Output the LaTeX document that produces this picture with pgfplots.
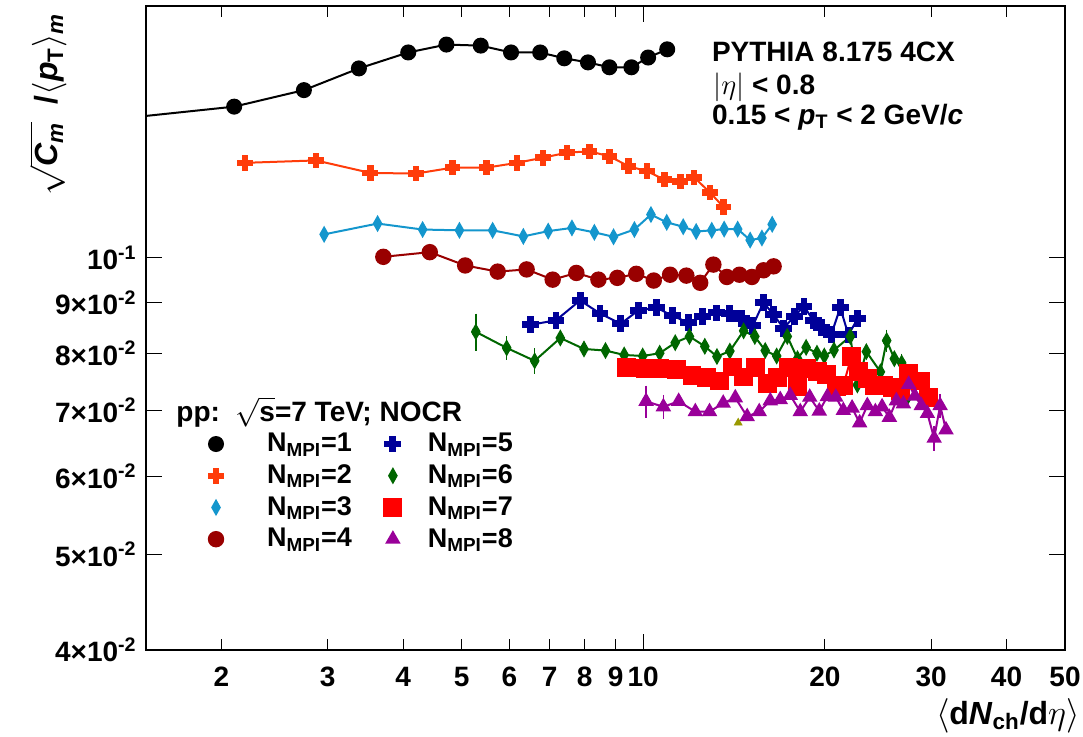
\documentclass[border=0pt]{standalone}
\usepackage{amsmath}
\usepackage{fontspec}
\setmainfont{Liberation Sans}
\usepackage{pgfplots}
\pgfplotsset{compat=1.18}
\definecolor{cOrange}{RGB}{255,60,10}
\definecolor{cCyan}{RGB}{20,150,205}
\definecolor{cBrown}{RGB}{153,0,0}
\definecolor{cBlue}{RGB}{0,0,153}
\definecolor{cGreen}{RGB}{0,102,0}
\definecolor{cRed}{RGB}{255,0,0}
\definecolor{cPurple}{RGB}{153,0,153}
\definecolor{cOlive}{RGB}{153,153,0}
\pgfdeclareplotmark{fcross}{%
  \pgfpathmoveto{\pgfqpoint{-0.33\pgfplotmarksize}{\pgfplotmarksize}}%
  \pgfpathlineto{\pgfqpoint{0.33\pgfplotmarksize}{\pgfplotmarksize}}%
  \pgfpathlineto{\pgfqpoint{0.33\pgfplotmarksize}{0.33\pgfplotmarksize}}%
  \pgfpathlineto{\pgfqpoint{\pgfplotmarksize}{0.33\pgfplotmarksize}}%
  \pgfpathlineto{\pgfqpoint{\pgfplotmarksize}{-0.33\pgfplotmarksize}}%
  \pgfpathlineto{\pgfqpoint{0.33\pgfplotmarksize}{-0.33\pgfplotmarksize}}%
  \pgfpathlineto{\pgfqpoint{0.33\pgfplotmarksize}{-\pgfplotmarksize}}%
  \pgfpathlineto{\pgfqpoint{-0.33\pgfplotmarksize}{-\pgfplotmarksize}}%
  \pgfpathlineto{\pgfqpoint{-0.33\pgfplotmarksize}{-0.33\pgfplotmarksize}}%
  \pgfpathlineto{\pgfqpoint{-\pgfplotmarksize}{-0.33\pgfplotmarksize}}%
  \pgfpathlineto{\pgfqpoint{-\pgfplotmarksize}{0.33\pgfplotmarksize}}%
  \pgfpathlineto{\pgfqpoint{-0.33\pgfplotmarksize}{0.33\pgfplotmarksize}}%
  \pgfpathclose
  \pgfusepathqfillstroke
}
\pgfplotsset{
  legA/.style={legend image code/.code={\path[draw=none,fill=none] (-5pt,-7.93pt) rectangle (25.5pt,7.93pt); \draw[##1, only marks] plot coordinates {(0pt,0pt)};}},
  legB/.style={legend image code/.code={\path[draw=none,fill=none] (-20.5pt,-7.93pt) rectangle (17.5pt,7.93pt); \draw[##1, only marks] plot coordinates {(0pt,0pt)};}},
}
\newcommand{\lbl}{\fontsize{14}{14}\selectfont\bfseries}
\begin{document}
\begin{tikzpicture}
\path[use as bounding box] (-73pt,-43pt) rectangle (468.5pt,325pt);
\begin{axis}[
  scale only axis, width=459.5pt, height=322pt,
  xmode=log, ymode=log,
  xmin=1.5, xmax=50, ymin=0.04, ymax=0.18,
  axis line style={line width=0.8pt},
  xminorticks=false, yminorticks=false,
  xtick={10}, xticklabels={10},
  extra x ticks={2,3,4,5,6,7,8,9,20,30,40,50},
  extra x tick labels={2,3,4,5,6,7,8,9,20,30,40,50},
  extra x tick style={major tick length=5.5pt},
  major tick length=8pt,
  tick style={line width=0.5pt, black},
  ytick={0.04,0.05,0.06,0.07,0.08,0.09,0.1},
  yticklabels={4×10\textsuperscript{-2},5×10\textsuperscript{-2},6×10\textsuperscript{-2},7×10\textsuperscript{-2},8×10\textsuperscript{-2},9×10\textsuperscript{-2},10\textsuperscript{-1}},
  xticklabel style={font=\lbl, inner sep=0pt, anchor=north, yshift=-8.5pt},
  yticklabel style={font=\lbl, inner sep=0pt, anchor=east, xshift=-4.5pt},
  every mark/.append style={line width=0.3pt},
  legend columns=2,
  legend cell align=left,
  legend style={at={(axis description cs:0.0653,0.3445)}, anchor=north west,
    draw=none, fill=none, inner sep=0pt, outer sep=0pt,
    row sep=0pt, column sep=0pt, nodes={inner sep=0pt},
    font=\fontsize{13.5}{14}\selectfont\bfseries},
]
% N_MPI = 1
\addplot[black, line width=1pt, mark=*, mark size=3.5pt, legA] coordinates {
(1.04,0.136) (2.10,0.1423) (2.74,0.1479) (3.38,0.1556) (4.08,0.1615) (4.72,0.1645) (5.38,0.1641) (6.04,0.1615) (6.75,0.1615) (7.40,0.1593) (8.10,0.1578) (8.79,0.1560) (9.56,0.1560) (10.19,0.1596) (10.96,0.1627)
};
\addlegendentry{N\textsubscript{MPI}=1}
% N_MPI = 5
\addplot[cBlue, line width=1pt, mark=fcross, mark size=3.7pt, legB] coordinates {
(6.51,0.0855) (7.17,0.0864) (7.86,0.0905) (8.48,0.0878) (9.18,0.0857) (9.81,0.0884) (10.51,0.0890) (11.19,0.0873) (11.89,0.0859) (12.53,0.0871) (13.21,0.0879) (13.88,0.0877) (14.54,0.0868) (15.19,0.0853) (15.83,0.0901) (16.45,0.0875) (17.09,0.0848) (17.80,0.0872) (18.47,0.0893) (19.13,0.0864) (19.73,0.0850) (20.50,0.0836) (21.21,0.0890) (21.88,0.0835) (22.68,0.0868)
};
\addlegendentry{N\textsubscript{MPI}=5}
% N_MPI = 2
\addplot[cOrange, line width=1pt, mark=fcross, mark size=3.4pt, legA] coordinates {
(2.19,0.1248) (2.87,0.1255) (3.53,0.1219) (4.20,0.1217) (4.83,0.1234) (5.50,0.1234) (6.18,0.1248) (6.82,0.1263) (7.48,0.1278) (8.15,0.1282) (8.80,0.1267) (9.46,0.1238) (10.14,0.1224) (10.84,0.1200) (11.52,0.1195) (12.15,0.1206) (12.91,0.1164) (13.58,0.1126)
};
\addlegendentry{N\textsubscript{MPI}=2}
% N_MPI = 6
\addplot[cGreen, line width=1pt, mark=diamond*, mark size=3.3pt, mark options={xscale=0.75}, legB] coordinates {
(5.28,0.0841) (5.94,0.0810) (6.61,0.0786) (7.29,0.0829) (7.98,0.0808) (8.66,0.0805) (9.30,0.0797) (9.98,0.0795) (10.65,0.0800) (11.30,0.0820) (11.93,0.0832) (12.65,0.0813) (13.25,0.0794) (13.92,0.0804) (14.67,0.0843) (15.31,0.0832) (15.93,0.0805) (16.64,0.0795) (17.33,0.0832) (18.02,0.0790) (18.62,0.0811) (19.41,0.0800) (19.96,0.0795) (20.71,0.0806) (22.04,0.0832) (22.64,0.0743) (23.43,0.0803) (24.72,0.0766) (25.32,0.0824) (26.07,0.0790) (26.81,0.0782) (27.38,0.0721)
};
\addlegendentry{N\textsubscript{MPI}=6}
\addplot[cGreen, only marks, mark=none, forget plot,
  error bars/.cd, y dir=both, y explicit, error mark=-,
  error mark options={mark size=1.4pt, line width=0.8pt, cGreen},
  error bar style={line width=0.8pt, cGreen}] coordinates {
(5.28,0.0841) +- (0,0.0031)
(5.94,0.0810) +- (0,0.0017)
(6.61,0.0786) +- (0,0.0018)
(25.32,0.0824) +- (0,0.0016)
(26.81,0.0782) +- (0,0.0012)
};
% N_MPI = 3
\addplot[cCyan, line width=1pt, mark=diamond*, mark size=3.3pt, mark options={xscale=0.75}, legA] coordinates {
(2.96,0.1056) (3.63,0.1083) (4.31,0.1068) (4.96,0.1066) (5.63,0.1066) (6.33,0.1051) (6.96,0.1064) (7.62,0.1072) (8.30,0.1061) (8.93,0.1050) (9.67,0.1068) (10.30,0.1106) (10.94,0.1086) (11.65,0.1075) (12.24,0.1063) (12.99,0.1066) (13.62,0.1069) (14.34,0.1069) (15.04,0.1042) (15.73,0.1047) (16.36,0.1081)
};
\addlegendentry{N\textsubscript{MPI}=3}
% N_MPI = 7
\addplot[cRed, line width=1pt, mark=square*, mark size=4.2pt, legB] coordinates {
(9.38,0.0774) (10.07,0.0772) (10.63,0.0772) (11.35,0.0770) (12.05,0.0759) (12.72,0.0756) (13.37,0.0750) (14.04,0.0775) (14.65,0.0757) (15.34,0.0774) (16.05,0.0745) (16.68,0.0756) (17.40,0.0774) (18.00,0.0740) (18.63,0.0772) (19.43,0.0767) (20.11,0.0761) (20.89,0.0740) (21.46,0.0742) (22.13,0.0794) (22.73,0.0766) (23.52,0.0754) (24.16,0.0742) (25.00,0.0742) (25.87,0.0738) (26.68,0.0733) (27.51,0.0763) (28.79,0.0750) (29.69,0.0721)
};
\addlegendentry{N\textsubscript{MPI}=7}
% N_MPI = 4
\addplot[cBrown, line width=1pt, mark=*, mark size=3.6pt, legA] coordinates {
(3.71,0.1002) (4.43,0.1013) (5.07,0.0982) (5.74,0.0968) (6.41,0.0973) (7.08,0.0950) (7.75,0.0965) (8.43,0.0950) (9.06,0.0954) (9.74,0.0963) (10.41,0.0948) (11.08,0.0961) (11.79,0.0959) (12.43,0.0943) (13.07,0.0984) (13.76,0.0956) (14.44,0.0961) (15.14,0.0956) (15.83,0.0971) (16.45,0.0980)
};
\addlegendentry{N\textsubscript{MPI}=4}
% N_MPI = 8
\addplot[cPurple, line width=1pt, mark=triangle*, mark size=3.5pt, legB] coordinates {
(10.11,0.0715) (10.80,0.0706) (11.45,0.0715) (12.20,0.0698) (12.88,0.0698) (13.57,0.0712) (14.21,0.0721) (14.87,0.0690) (15.57,0.0698) (16.24,0.0716) (16.87,0.0718) (17.53,0.0725) (18.21,0.0698) (18.88,0.0722) (19.58,0.0699) (20.19,0.0723) (20.85,0.0722) (21.46,0.0700) (22.19,0.0704) (22.84,0.0680) (23.52,0.0708) (24.25,0.0698) (24.88,0.0706) (25.58,0.0689) (26.28,0.0716) (26.99,0.0711) (27.54,0.0744) (28.20,0.0724) (28.90,0.0708) (29.58,0.0695) (30.35,0.0656) (31.05,0.0708) (31.75,0.0669)
};
\addlegendentry{N\textsubscript{MPI}=8}
\addplot[cPurple, only marks, mark=none, forget plot,
  error bars/.cd, y dir=both, y explicit, error mark=-,
  error mark options={mark size=1.4pt, line width=0.8pt, cPurple},
  error bar style={line width=0.8pt, cPurple}] coordinates {
(10.11,0.0715) +- (0,0.0022)
(10.80,0.0706) +- (0,0.0015)
(30.35,0.0656) +- (0,0.0015)
(31.05,0.0708) +- (0,0.0015)
};
\addplot[cOlive, only marks, mark=triangle*, mark size=2.2pt, forget plot] coordinates {(14.37,0.0680)};
\end{axis}
\node[anchor=base west, font=\lbl, inner sep=0pt] at (282.8pt,294.2pt) {PYTHIA 8.175 4CX};
\node[anchor=base west, font=\lbl, inner sep=0pt] at (283.5pt,278pt) {$|\eta|$ < 0.8};
\node[anchor=base west, font=\lbl, inner sep=0pt] at (282.8pt,263pt) {0.15 <\ \textit{p}\textsubscript{T} < 2 GeV/\textit{c}};
\node[anchor=base west, font=\lbl, inner sep=0pt] at (15pt,114.5pt) {pp:\ \ $\sqrt{\textbf{s}}$=7 TeV; NOCR};
\node[rotate=90, anchor=base east, inner sep=0pt, font=\fontsize{16}{16}\selectfont\bfseries] at (-44pt,318.5pt)
  {$\sqrt{\textbf{\textit{C}}_{\textbf{\textit{m}}}}$\ \ /$\langle$\textit{p}\textsubscript{T}$\rangle$\textsubscript{\textit{m}}};
\node[anchor=base east, inner sep=0pt, font=\fontsize{16}{16}\selectfont\bfseries] at (467pt,-37pt)
  {$\langle$d\textit{N}\textsubscript{ch}/d$\eta\rangle$};
\end{tikzpicture}
\end{document}
